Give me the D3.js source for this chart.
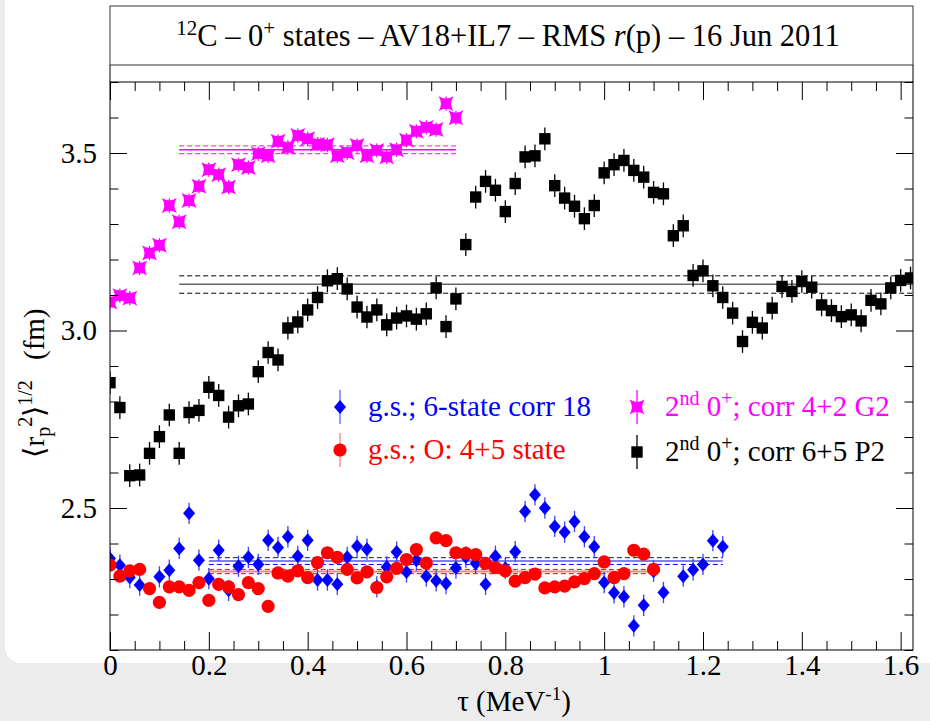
<!DOCTYPE html>
<html>
<head>
<meta charset="utf-8">
<script src="https://cdn.jsdelivr.net/npm/d3@7/dist/d3.min.js"></script>
<style>
body { margin: 0; background: #ececec; }
svg { display: block; }
</style>
</head>
<body>
<svg width="930" height="721"></svg>
<script>
// tau runs in steps of 0.02 MeV^-1, point i sits at tau = i * 0.02
const tauStep = 0.02;

// g.s.; 6-state corr 18 (blue)
const gsCorr18 = [2.358, 2.339, 2.304, 2.283, null, 2.306, 2.325, 2.386, 2.485, 2.353,
  2.301, 2.381, 2.268, 2.336, 2.361, 2.341, 2.409, 2.389, 2.419, 2.364,
  2.409, 2.297, 2.297, 2.285, 2.361, 2.392, 2.384, 2.278, 2.334, 2.376,
  2.320, 2.353, 2.308, 2.295, 2.287, 2.331, 2.362, 2.344, 2.285, 2.364,
  2.330, 2.377, 2.490, 2.537, 2.500, 2.448, 2.432, 2.462, 2.419, 2.391,
  2.290, 2.261, 2.250, 2.168, 2.226, 2.322, 2.262, null, 2.308, 2.326,
  2.341, 2.408, 2.391];

// g.s.; O: 4+5 state (red)
const gsO45 = [2.339, 2.308, 2.323, 2.327, 2.273, 2.234, 2.278, 2.278, 2.268, 2.290,
  2.240, 2.285, 2.278, 2.256, 2.290, 2.273, 2.223, 2.317, 2.308, 2.323,
  2.304, 2.346, 2.374, 2.361, 2.327, 2.303, 2.320, 2.276, 2.306, 2.330,
  2.355, 2.383, 2.345, 2.416, 2.408, 2.374, 2.372, 2.369, 2.344, 2.332,
  2.323, 2.294, 2.304, 2.314, 2.275, 2.278, 2.280, 2.292, 2.301, 2.315,
  2.348, 2.304, 2.315, 2.381, 2.370, 2.327];

// 2nd 0+; corr 4+2 G2 (magenta)
const secondG2 = [3.080, 3.098, 3.091, 3.176, 3.218, 3.240, 3.352, 3.306, 3.366, 3.406,
  3.453, 3.439, 3.404, 3.467, 3.459, 3.498, 3.492, 3.533, 3.516, 3.549,
  3.540, 3.525, 3.523, 3.492, 3.501, 3.521, 3.492, 3.507, 3.489, 3.509,
  3.536, 3.561, 3.572, 3.566, 3.639, 3.599];

// 2nd 0+; corr 6+5 P2 (black)
const secondP2 = [2.853, 2.783, 2.591, 2.593, 2.654, 2.701, 2.762, 2.654, 2.769, 2.775,
  2.840, 2.817, 2.756, 2.788, 2.793, 2.884, 2.938, 2.917, 3.007, 3.024,
  3.058, 3.093, 3.140, 3.146, 3.117, 3.066, 3.038, 3.058, 3.016, 3.035,
  3.041, 3.032, 3.047, 3.120, 3.011, 3.089, 3.242, 3.376, 3.420, 3.395,
  3.335, 3.414, 3.489, 3.492, 3.540, 3.408, 3.373, 3.350, 3.315, 3.352,
  3.444, 3.467, 3.479, 3.451, 3.432, 3.389, 3.385, 3.267, 3.295, 3.155,
  3.168, 3.126, 3.093, 3.049, 2.969, 3.023, 3.007, 3.063, 3.124, 3.110,
  3.138, 3.122, 3.072, 3.056, 3.039, 3.044, 3.027, 3.085, 3.075, 3.120,
  3.141, 3.148];

// error bar half sizes per series
const errCorr18 = 0.03, errO45 = 0.015, errG2 = 0.02, errP2 = 0.032;

// averages: [tau from, tau to, mean, lower, upper]
const bandCorr18 = [0.20, 1.24, 2.351, 2.341, 2.360];
const bandO45 = [0.20, 1.10, 2.321, 2.315, 2.327];
const bandG2 = [0.14, 0.70, 3.509, 3.498, 3.520];
const bandP2 = [0.14, 1.625, 3.130, 3.105, 3.154];

const xMajor = d3.range(0, 9).map(i => i * 0.2);
const xMinor = d3.range(0, 33).map(i => i * 0.05).filter((d, i) => i % 4 != 0);
const yMajor = [2.5, 3.0, 3.5];
const yMinor = d3.range(21, 38).filter(i => i % 5 != 0).map(i => i / 10);

const serif = '"Liberation Serif", "Times New Roman", serif';

const svg = d3.select('svg').style('font-family', serif);

// white card with rounded corners on the grey page
svg.append('rect')
  .attr('x', 5).attr('y', -30).attr('width', 960).attr('height', 693)
  .attr('rx', 16).attr('fill', '#fff');

const x = d3.scaleLinear().domain([0, 1.625]).range([110, 913]);
const y = d3.scaleLinear().domain([2.1, 3.7]).range([650, 82]);

// title box
svg.append('rect')
  .attr('x', 110).attr('y', 6).attr('width', 803).attr('height', 59)
  .attr('fill', 'none').attr('stroke', '#333').attr('stroke-width', 1);
svg.append('line').attr('x1', 110).attr('x2', 110).attr('y1', 65).attr('y2', 82).attr('stroke', '#000');
svg.append('line').attr('x1', 913).attr('x2', 913).attr('y1', 65).attr('y2', 82).attr('stroke', '#000');

const title = svg.append('text')
  .attr('x', 508).attr('y', 46)
  .attr('text-anchor', 'middle')
  .style('font-family', serif)
  .attr('font-size', 30.5);
title.append('tspan').attr('font-size', 21).attr('dy', -11).text('12');
title.append('tspan').attr('dy', 11).text('C \u2013 0');
title.append('tspan').attr('font-size', 21).attr('dy', -11).text('+');
title.append('tspan').attr('dy', 11).text(' states \u2013 AV18+IL7 \u2013 RMS ');
title.append('tspan').attr('font-style', 'italic').text('r');
title.append('tspan').text('(p) \u2013 16 Jun 2011');

// clip so the P2 average lines stop at the frame
svg.append('clipPath').attr('id', 'plotclip')
  .append('rect').attr('x', 110).attr('y', 82).attr('width', 803).attr('height', 568);

const plot = svg.append('g').attr('clip-path', 'url(#plotclip)');

function drawBand(b, col, solidCol, solidW) {
  const g = plot.append('g');
  g.append('line')
    .attr('x1', x(b[0])).attr('x2', x(b[1]))
    .attr('y1', y(b[2])).attr('y2', y(b[2]))
    .attr('stroke', solidCol).attr('stroke-width', solidW);
  [b[3], b[4]].forEach(v => {
    g.append('line')
      .attr('x1', x(b[0])).attr('x2', x(b[1]))
      .attr('y1', y(v)).attr('y2', y(v))
      .attr('stroke', col).attr('stroke-width', 1)
      .attr('stroke-dasharray', '5,3');
  });
}

drawBand(bandP2, '#000', '#666', 1.5);
drawBand(bandG2, '#ff00ff', '#ff00ff', 1.5);
drawBand(bandCorr18, '#0000ff', '#8080ff', 2);
drawBand(bandO45, '#ff0000', '#ff8080', 2);

// marker shapes
const diamond = 'M0,-7L6,0L0,7L-6,0Z';
const square = 'M-5.7,-5.7H5.7V5.7H-5.7Z';
const star = 'M-7.5,-7.5Q0,-2.7 7.5,-7.5Q2.7,0 7.5,7.5Q0,2.7 -7.5,7.5Q-2.7,0 -7.5,-7.5Z';

function drawSeries(vals, err, col, barCol, shape) {
  const pts = vals.map((v, i) => ({ t: i * tauStep, v: v })).filter(d => d.v != null);
  const g = plot.append('g');
  g.selectAll('line')
    .data(pts)
    .enter()
    .append('line')
    .attr('x1', d => x(d.t)).attr('x2', d => x(d.t))
    .attr('y1', d => y(d.v - err)).attr('y2', d => y(d.v + err))
    .attr('stroke', barCol).attr('stroke-width', 1.3);
  if (shape == 'circle') {
    g.selectAll('circle')
      .data(pts)
      .enter()
      .append('circle')
      .attr('cx', d => x(d.t)).attr('cy', d => y(d.v))
      .attr('r', 6.6).attr('fill', col);
  } else {
    g.selectAll('path')
      .data(pts)
      .enter()
      .append('path')
      .attr('d', shape)
      .attr('transform', d => `translate(${x(d.t)},${y(d.v)})`)
      .attr('fill', col);
  }
}

drawSeries(gsCorr18, errCorr18, '#0000ff', '#4040ff', diamond);
drawSeries(gsO45, errO45, '#ff0000', '#ff6060', 'circle');
drawSeries(secondG2, errG2, '#ff00ff', '#ff00ff', star);
drawSeries(secondP2, errP2, '#000', '#000', square);

// axes: ticks point into the frame
const fmtX = d => String(+d.toFixed(1));
const fmtY = d => d.toFixed(1);

function styleAxis(g) {
  g.select('.domain').remove();
  g.attr('font-family', null);
  g.selectAll('line').attr('stroke', '#000');
  g.selectAll('text')
    .style('font-family', serif)
    .attr('font-size', 29)
    .attr('fill', '#000');
}

svg.append('g').attr('transform', 'translate(0,650)')
  .call(d3.axisBottom(x).tickValues(xMajor).tickSize(-18).tickPadding(4).tickFormat(fmtX))
  .call(styleAxis);
svg.append('g').attr('transform', 'translate(0,650)')
  .call(d3.axisBottom(x).tickValues(xMinor).tickSize(-9).tickFormat(''))
  .call(styleAxis);
svg.append('g').attr('transform', 'translate(0,82)')
  .call(d3.axisTop(x).tickValues(xMajor).tickSize(-18).tickFormat(''))
  .call(styleAxis);
svg.append('g').attr('transform', 'translate(0,82)')
  .call(d3.axisTop(x).tickValues(xMinor).tickSize(-9).tickFormat(''))
  .call(styleAxis);

svg.append('g').attr('transform', 'translate(110,0)')
  .call(d3.axisLeft(y).tickValues(yMajor).tickSize(-17).tickPadding(13).tickFormat(fmtY))
  .call(styleAxis);
svg.append('g').attr('transform', 'translate(110,0)')
  .call(d3.axisLeft(y).tickValues(yMinor).tickSize(-8.5).tickFormat(''))
  .call(styleAxis);
svg.append('g').attr('transform', 'translate(913,0)')
  .call(d3.axisRight(y).tickValues(yMajor).tickSize(-17).tickFormat(''))
  .call(styleAxis);
svg.append('g').attr('transform', 'translate(913,0)')
  .call(d3.axisRight(y).tickValues(yMinor).tickSize(-8.5).tickFormat(''))
  .call(styleAxis);

// frame
svg.append('rect')
  .attr('x', 110).attr('y', 82).attr('width', 803).attr('height', 568)
  .attr('fill', 'none').attr('stroke', '#000').attr('stroke-width', 1);

// axis titles
const xt = svg.append('text')
  .attr('x', 514).attr('y', 711)
  .attr('text-anchor', 'middle').attr('font-size', 29)
  .style('font-family', serif);
xt.append('tspan').text('\u03c4 (MeV');
xt.append('tspan').attr('font-size', 19).attr('dy', -11).text('-1');
xt.append('tspan').attr('dy', 11).text(')');

const yt = svg.append('text')
  .attr('transform', 'translate(44,383) rotate(-90)')
  .attr('text-anchor', 'middle').attr('font-size', 29)
  .style('font-family', serif);
yt.append('tspan').text('\u27e8r');
yt.append('tspan').attr('font-size', 20).attr('dy', 6).text('p');
yt.append('tspan').attr('font-size', 20).attr('dy', -18).text('2');
yt.append('tspan').attr('dy', 12).text('\u27e9');
yt.append('tspan').attr('font-size', 20).attr('dy', -12).text('1/2');
yt.append('tspan').attr('dy', 12).text('\u2002\u2009(fm)');

// legend
const legend = svg.append('g');
function legendEntry(px, py, col, barCol, shape, parts) {
  legend.append('line')
    .attr('x1', px).attr('x2', px).attr('y1', py - 17).attr('y2', py + 17)
    .attr('stroke', barCol).attr('stroke-width', 1.3);
  if (shape == 'circle') {
    legend.append('circle').attr('cx', px).attr('cy', py).attr('r', 6.6).attr('fill', col);
  } else {
    legend.append('path').attr('d', shape)
      .attr('transform', `translate(${px},${py})`).attr('fill', col);
  }
  const t = legend.append('text')
    .attr('x', px + 28).attr('y', py + 9)
    .attr('font-size', 29).attr('fill', col)
    .style('font-family', serif);
  parts.forEach(p => {
    if (p[1]) {
      t.append('tspan').attr('font-size', 20).attr('dy', -11).text(p[0]);
    } else {
      t.append('tspan').attr('dy', p[2] ? 11 : 0).text(p[0]);
    }
  });
}

legendEntry(340, 407, '#0000ff', '#6060ff', diamond, [['g.s.; 6-state corr 18']]);
legendEntry(340, 450, '#ff0000', '#ff8080', 'circle', [['g.s.; O: 4+5 state']]);
legendEntry(637, 407, '#ff00ff', '#ff00ff', star,
  [['2'], ['nd', true], [' 0', false, true], ['+', true], ['; corr 4+2 G2', false, true]]);
legendEntry(637, 452, '#000', '#000', square,
  [['2'], ['nd', true], [' 0', false, true], ['+', true], ['; corr 6+5 P2', false, true]]);
</script>
</body>
</html>
